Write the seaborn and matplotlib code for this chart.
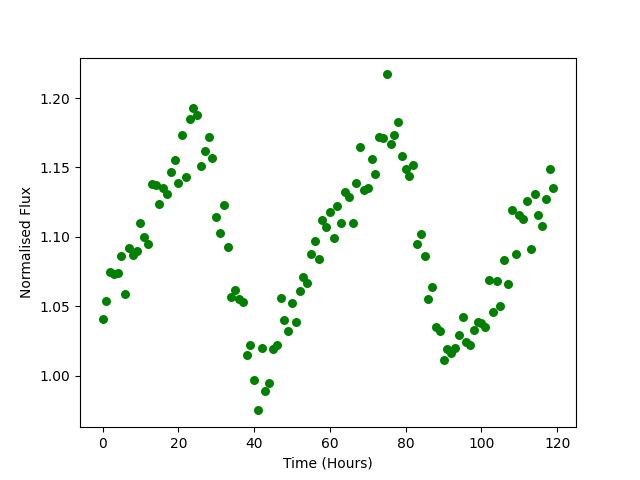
import numpy as np
import pandas as pd
import seaborn as sns
import matplotlib
matplotlib.use("Agg")
import matplotlib.pyplot as plt

# Hourly samples
time_hours = list(range(120))
flux = [
    1.041, 1.054, 1.075, 1.073, 1.074, 1.086, 1.059, 1.092, 1.087, 1.090,
    1.110, 1.100, 1.095, 1.138, 1.137, 1.124, 1.135, 1.131, 1.147, 1.155,
    1.139, 1.173, 1.143, 1.185, 1.193, 1.188, 1.151, 1.162, 1.172, 1.157,
    1.114, 1.103, 1.123, 1.093, 1.057, 1.062, 1.055, 1.053, 1.015, 1.022,
    0.997, 0.975, 1.020, 0.989, 0.995, 1.019, 1.022, 1.056, 1.040, 1.032,
    1.052, 1.039, 1.061, 1.071, 1.067, 1.088, 1.097, 1.084, 1.112, 1.107,
    1.118, 1.099, 1.122, 1.110, 1.132, 1.129, 1.110, 1.139, 1.165, 1.134,
    1.135, 1.156, 1.145, 1.172, 1.171, 1.217, 1.167, 1.173, 1.183, 1.158,
    1.149, 1.144, 1.152, 1.095, 1.102, 1.086, 1.055, 1.064, 1.035, 1.032,
    1.011, 1.019, 1.016, 1.020, 1.029, 1.042, 1.024, 1.022, 1.033, 1.039,
    1.038, 1.035, 1.069, 1.046, 1.068, 1.050, 1.083, 1.066, 1.119, 1.088,
    1.116, 1.113, 1.126, 1.091, 1.131, 1.116, 1.108, 1.127, 1.149, 1.135,
]

df = pd.DataFrame({"time": time_hours, "flux": flux})

fig, ax = plt.subplots(figsize=(6.4, 4.8), dpi=100)
sns.scatterplot(data=df, x="time", y="flux", color="green", s=42,
                linewidth=0, ax=ax)
ax.set_xlabel("Time (Hours)")
ax.set_ylabel("Normalised Flux")
ax.set_xticks([0, 20, 40, 60, 80, 100, 120])
fig.savefig("out.png", dpi=100)
